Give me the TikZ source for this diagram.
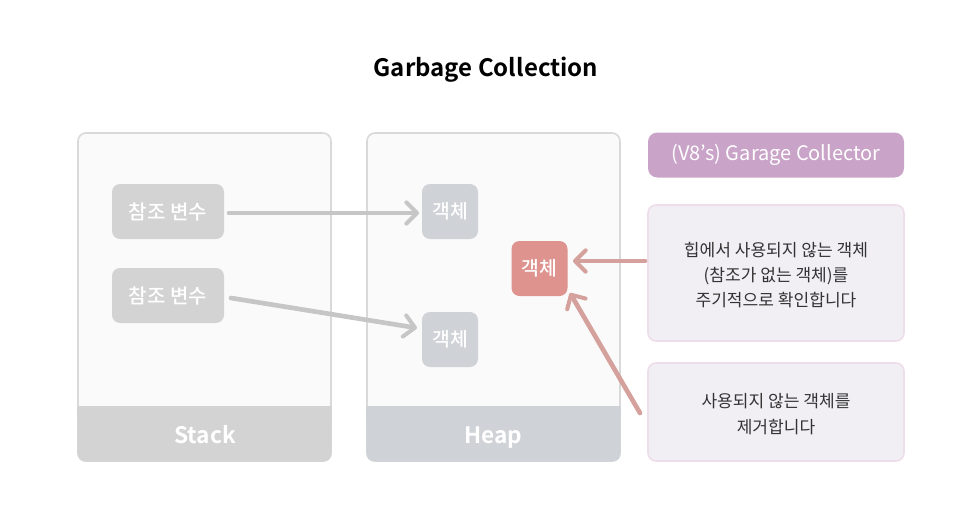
\documentclass[tikz,border=0pt]{standalone}
\usepackage{fontspec}
\setmainfont{Noto Sans CJK KR}
\newfontfamily\krbold{Noto Sans CJK KR Bold}
\newfontfamily\krmed{Noto Sans CJK KR Medium}
\usetikzlibrary{arrows.meta}
\definecolor{panelfill}{HTML}{FAFAFA}
\definecolor{panelline}{HTML}{D9D9D9}
\definecolor{stackband}{HTML}{D3D3D3}
\definecolor{heapband}{HTML}{CFD2D6}
\definecolor{varbox}{HTML}{D3D3D3}
\definecolor{objbox}{HTML}{CFD2D6}
\definecolor{redbox}{HTML}{DE938F}
\definecolor{redarrow}{HTML}{D5A19C}
\definecolor{grayarrow}{HTML}{C6C6C6}
\definecolor{purplebox}{HTML}{C9A3C8}
\definecolor{notefill}{HTML}{F1EFF4}
\definecolor{noteline}{HTML}{EEDDEB}
\definecolor{notetext}{HTML}{333333}
\begin{document}
\begin{tikzpicture}[x=0.75pt,y=-0.75pt,
  panel/.style={draw=panelline,line width=1.2pt,fill=panelfill,rounded corners=6pt},
  tagbox/.style={fill=#1,rounded corners=6pt,text=white,inner sep=0pt,font=\krmed\fontsize{15pt}{17pt}\selectfont},
  objtag/.style={tagbox=#1,minimum width=56*0.75pt,minimum height=55*0.75pt,font=\krmed\fontsize{14.5pt}{16pt}\selectfont},
  note/.style={draw=noteline,line width=1.2pt,fill=notefill,rounded corners=6pt},
  notetxt/.style={text=notetext,align=center,font=\fontsize{12.8pt}{19pt}\selectfont},
  bandlbl/.style={text=white,anchor=base,font=\krbold\fontsize{17pt}{20pt}\selectfont},
  grayarr/.style={draw=grayarrow,line width=3.5pt,line cap=round,-{Straight Barb[length=8pt,width=16pt,line width=3pt,round]}},
  redarr/.style={draw=redarrow,line width=3.5pt,line cap=round,-{Straight Barb[length=8pt,width=16pt,line width=3pt,round]}}
]
\useasboundingbox (0,0) rectangle (972,518);
\node (title) at (486,70) {\krbold\fontsize{18pt}{21pt}\selectfont Garbage Collection};

% Stack panel
\path[panel] (78,133) rectangle (331,461);
\fill[stackband,rounded corners=6pt] (77.4,406) -- (77.4,461.6) -- (331.6,461.6) -- (331.6,406) -- cycle;
\fill[stackband] (77.4,406) rectangle (331.6,420);
\node[bandlbl] (stacklbl) at (205,443) {Stack};

% Heap panel
\path[panel] (367,133) rectangle (620,461);
\fill[heapband,rounded corners=6pt] (366.4,406) -- (366.4,461.6) -- (620.6,461.6) -- (620.6,406) -- cycle;
\fill[heapband] (366.4,406) rectangle (620.6,420);
\node[bandlbl] (heaplbl) at (493,443) {Heap};

% nodes
\node[tagbox=varbox,minimum width=112*0.75pt,minimum height=55*0.75pt] (v1) at (168,211.5) {참조 변수};
\node[tagbox=varbox,minimum width=112*0.75pt,minimum height=55*0.75pt] (v2) at (168,295.5) {참조 변수};
\node[objtag=objbox] (o1) at (450,211.5) {객체};
\node[objtag=objbox] (o2) at (450,339.5) {객체};
\node[objtag=redbox] (o3) at (539.5,268.5) {객체};

% right side
\node[fill=purplebox,rounded corners=7pt,minimum width=256*0.75pt,minimum height=45*0.75pt,text=white,inner sep=0pt,font=\fontsize{15pt}{17pt}\selectfont] (gc) at (776,155) {(V8’s) Garage Collector};
\path[note] (648,205) rectangle (904,341);
\node[notetxt] (n1) at (776,275) {힙에서 사용되지 않는 객체\\(참조가 없는 객체)를\\주기적으로 확인합니다};
\path[note] (648,363) rectangle (904,461);
\node[notetxt] (n2) at (776,414) {사용되지 않는 객체를\\제거합니다};
\coordinate (n1w) at (645,261);
\coordinate (n2w) at (640,413);

% arrows
\draw[grayarr] (229,213) -- (419,213);
\draw[grayarr] (231,298) -- (417,328);
\draw[redarr] (n1w) -- (573,261);
\draw[redarr] (n2w) -- (570,293);
\end{tikzpicture}
\end{document}
